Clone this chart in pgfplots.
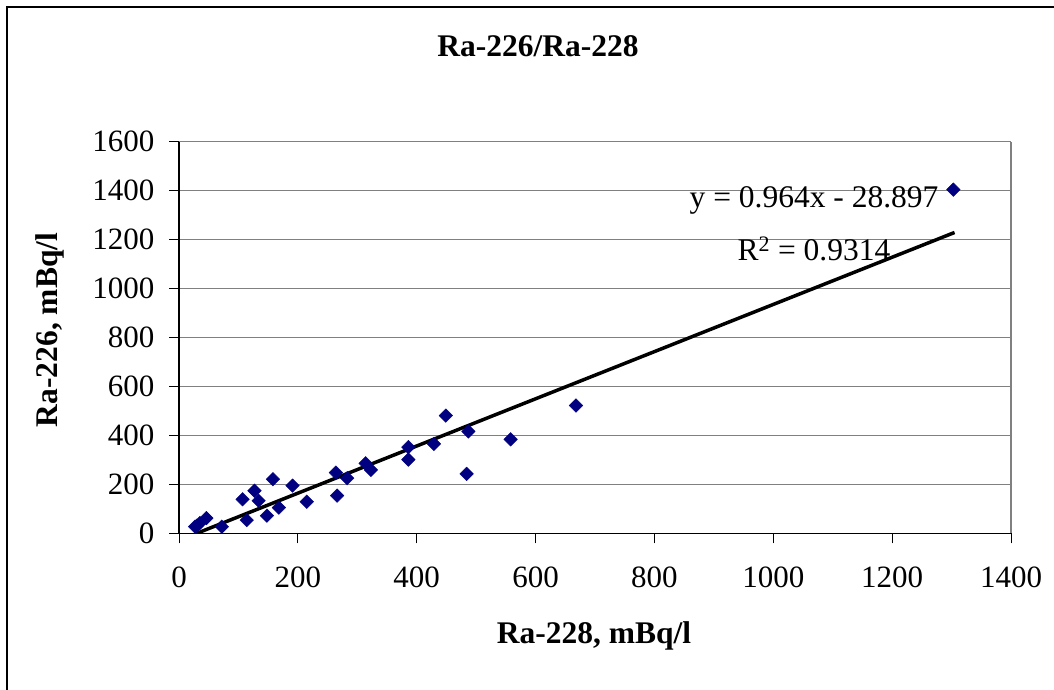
\documentclass[border=0pt]{standalone}
\usepackage{fontspec}
\setmainfont{Liberation Serif}
\usepackage{pgfplots}
\pgfplotsset{compat=1.18}

\definecolor{navymark}{HTML}{000080}
\definecolor{gridgray}{HTML}{808080}

\newcommand{\chartfont}{\fontsize{31.5bp}{37bp}\selectfont}
\newcommand{\tickfont}{\fontsize{31bp}{37bp}\selectfont}

\begin{document}
\begin{tikzpicture}
  \useasboundingbox (0bp,0bp) rectangle (1054bp,690bp);
  \draw[line width=1.3bp] (7bp,0bp) -- (7bp,683bp) -- (1054bp,683bp);

  \begin{axis}[
    at={(179bp,156.7bp)}, anchor=south west,
    scale only axis,
    width=832bp, height=391.6bp,
    xmin=0, xmax=1400, ymin=0, ymax=1600,
    xtick distance=200, ytick distance=200,
    axis lines*=left,
    axis line style={black, line width=1.3bp},
    tick align=outside,
    major tick length=10bp,
    tick style={black, line width=1bp},
    ymajorgrids,
    major grid style={gridgray, line width=1.2bp},
    extra x ticks={1400}, extra x tick labels={},
    extra x tick style={grid=major, major tick length=0pt},
    /pgf/number format/assume math mode=true,
    /pgf/number format/1000 sep={},
    tick label style={font=\tickfont},
    xticklabel style={yshift=-20bp},
    yticklabel style={xshift=-11bp},
    clip=true,
  ]
    \addplot[only marks, mark=square*, mark size=4.8bp,
      mark options={rotate=45, fill=navymark, draw=navymark}]
      table {
        x y
        1303 1404
        668 522
        558 384
        487 416
        449 481
        484 243
        429 365
        386 352
        386 301
        314 286
        323 259
        264 248
        283 225
        266 154
        215 129
        191 195
        158 221
        168 105
        148 72
        127 174
        134 133
        107 139
        114 54
        72 27
        46 62
        35 42
        27 27
        30 31
      };
    \addplot[black, line width=3.5bp] coordinates {(27,-2.87) (1305,1229.1)};
  \end{axis}

  \node[font=\chartfont\bfseries] at (538bp,644bp) {Ra-226/Ra-228};
  \node[font=\chartfont\bfseries] at (594bp,54bp) {Ra-228, mBq/l};
  \node[font=\chartfont\bfseries, rotate=90] at (50bp,360bp) {Ra-226, mBq/l};
  \node[font=\chartfont] at (814bp,490bp) {y = 0.964x - 28.897};
  \node[font=\chartfont] at (814bp,441bp) {R\textsuperscript{2} = 0.9314};
\end{tikzpicture}
\end{document}
